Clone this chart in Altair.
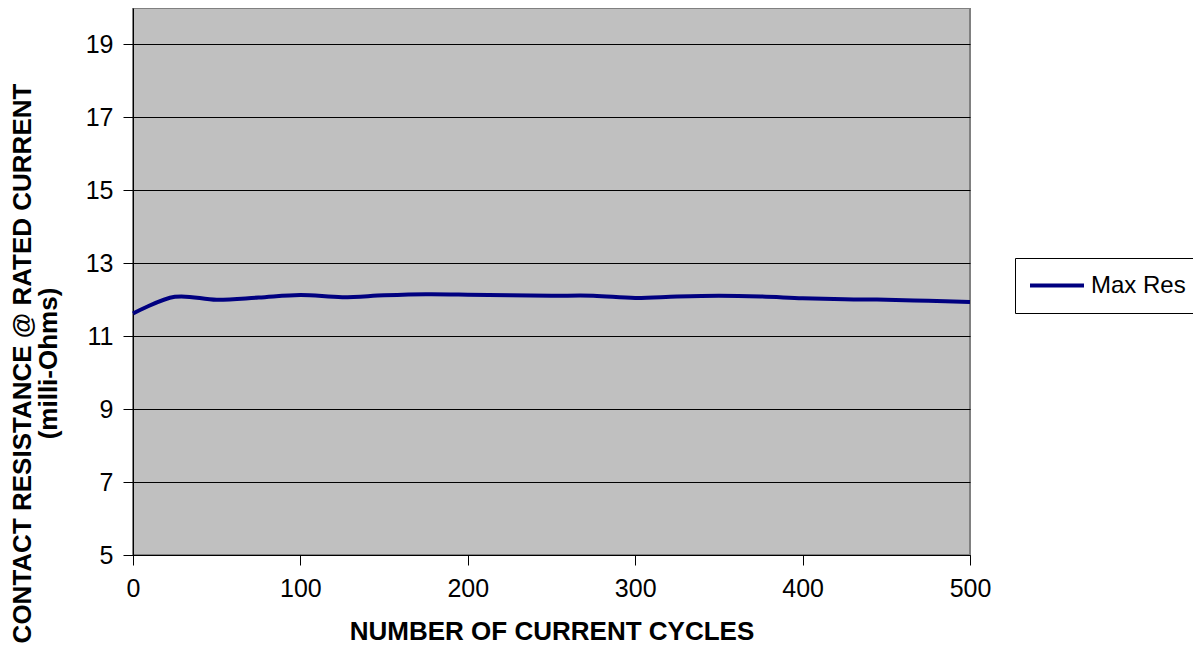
import altair as alt
import pandas as pd

cycles = [0, 25, 50, 75, 100, 125, 150, 175, 200, 225, 250, 275, 300, 325, 350, 375, 400, 425, 450, 475, 500]
max_res = [11.62, 12.08, 12.00, 12.06, 12.13, 12.07, 12.12, 12.15, 12.14, 12.12, 12.11, 12.11, 12.05, 12.09,
           12.11, 12.09, 12.04, 12.01, 12.00, 11.97, 11.94]
series = ["Max Res"] * len(cycles)
y_ticks = [5, 7, 9, 11, 13, 15, 17, 19]
x_ticks = [0, 100, 200, 300, 400, 500]

df = pd.DataFrame({"cycles": cycles, "res": max_res, "series": series})

FONT = "Liberation Sans"

chart = alt.Chart(df).mark_line(strokeWidth=4, interpolate="catmull-rom").encode(
    x=alt.X("cycles:Q",
            scale=alt.Scale(domain=[0, 500], nice=False, zero=False),
            axis=alt.Axis(values=x_ticks, title="NUMBER OF CURRENT CYCLES", grid=False,
                          tickSize=10, tickColor="black", domainColor="black",
                          labelFontSize=25, labelPadding=31, labelBaseline="alphabetic",
                          labelColor="black", labelFlush=False, labelOverlap=False,
                          titleFontSize=26, titleFontWeight="bold", titleColor="black",
                          titleY=84, titleBaseline="alphabetic",
                          labelFont=FONT, titleFont=FONT)),
    y=alt.Y("res:Q",
            scale=alt.Scale(domain=[5, 20], nice=False, zero=False),
            axis=alt.Axis(values=y_ticks, title=["CONTACT RESISTANCE @ RATED CURRENT", "(milli-Ohms)"],
                          grid=True, gridColor="black", gridWidth=1,
                          tickSize=10, tickColor="black", domainColor="black",
                          labelFontSize=25, labelPadding=10, labelColor="black",
                          titleFontSize=26, titleFontWeight="bold", titleColor="black",
                          titleX=-124, titleY=355, titleBaseline="top", titleLineHeight=26,
                          labelFont=FONT, titleFont=FONT)),
    color=alt.Color("series:N",
                    scale=alt.Scale(domain=["Max Res"], range=["#000080"]),
                    legend=alt.Legend(title=None, orient="none", legendX=882, legendY=250,
                                      symbolType="stroke", symbolStrokeWidth=4, symbolSize=2916,
                                      symbolOffset=6, clipHeight=41,
                                      labelFontSize=24, labelFont=FONT, labelColor="black",
                                      strokeColor="black", fillColor="white", padding=7,
                                      labelOffset=5)),
).properties(
    width=837, height=547,
    autosize=alt.AutoSizeParams(type="none"),
    padding={"left": 125, "top": 0, "right": 223, "bottom": 90},
    background="white",
).configure_view(
    fill="#C0C0C0", stroke="#808080", strokeWidth=2
)

chart.save("out.html", embed_options={"renderer": "svg", "actions": False})
